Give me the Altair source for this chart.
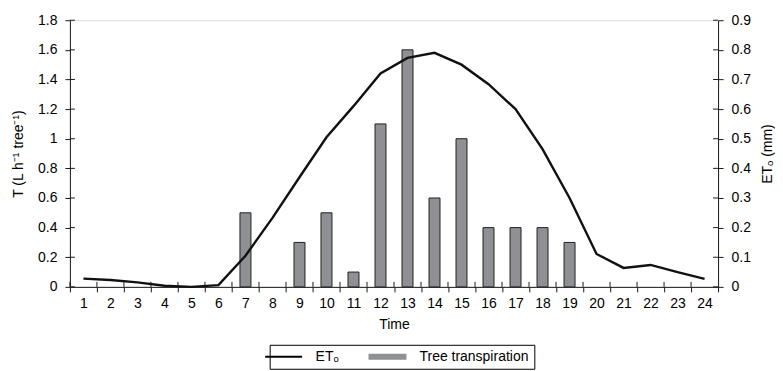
import altair as alt
import pandas as pd

hours = list(range(1, 25))
transp = [0, 0, 0, 0, 0, 0, 0.5, 0, 0.3, 0.5, 0.1, 1.1, 1.6, 0.6, 1.0, 0.4, 0.4, 0.4, 0.3, 0, 0, 0, 0, 0]
et0 = [0.028, 0.023, 0.015, 0.004, 0.0, 0.006, 0.105, 0.233, 0.37, 0.505, 0.61, 0.72,
       0.773, 0.79, 0.75, 0.684, 0.6, 0.465, 0.3, 0.111, 0.064, 0.074, 0.05, 0.027]
left_ticks = [0, 0.2, 0.4, 0.6, 0.8, 1, 1.2, 1.4, 1.6, 1.8]
right_ticks = [0, 0.1, 0.2, 0.3, 0.4, 0.5, 0.6, 0.7, 0.8, 0.9]
series = ["ET\u2092", "Tree transpiration"]

FONT = "Liberation Sans"
FS = 14
GREY = "#8f9094"
INK = "#1a1a1a"
W, H = 649, 267

df = pd.DataFrame({"hour": hours, "T": transp, "ET0": et0})
ticks_df = pd.DataFrame({"T": left_ticks})
edges_df = pd.DataFrame({"hour": hours})
leg_df = pd.DataFrame({"series": series, "hour": [1, 1], "T": [0, 0]})

common = dict(domainColor=INK, tickColor=INK, labelColor="black", titleColor="black",
              labelFontSize=FS, titleFontSize=FS, titleFontWeight="normal", tickSize=5,
              labelFont=FONT, titleFont=FONT, labelOverlap=False)

xenc = alt.X("hour:O", scale=alt.Scale(paddingInner=0, paddingOuter=0),
             axis=alt.Axis(title="Time", labelAngle=0, tickBand="extent",
                           labelPadding=5, titlePadding=7, **common))
yscale = alt.Scale(domain=[0, 1.8])

bars = alt.Chart(df).transform_filter("datum.T > 0").mark_bar(
    width=11, color=GREY, stroke="#222", strokeWidth=1
).encode(
    x=xenc,
    y=alt.Y("T:Q", scale=yscale,
            axis=alt.Axis(title="T (L h\u207b\u00b9 tree\u207b\u00b9)", values=left_ticks, format="~g",
                          grid=False, labelPadding=8, titlePadding=12, **common)),
)

ytick_in = alt.Chart(ticks_df).mark_rule(color=INK, strokeWidth=1).encode(
    y=alt.Y("T:Q", scale=yscale, axis=None), x=alt.value(0), x2=alt.value(5))
ytick_in_r = alt.Chart(ticks_df).mark_rule(color=INK, strokeWidth=1).encode(
    y=alt.Y("T:Q", scale=yscale, axis=None), x=alt.value(W - 5), x2=alt.value(W))
xtick_in = alt.Chart(edges_df).mark_rule(color=INK, strokeWidth=1).encode(
    x=alt.X("hour:O", bandPosition=0), y=alt.value(H - 5), y2=alt.value(H))

LEG_TITLE = "\u2003"
legend = alt.Chart(leg_df).mark_point(opacity=0, filled=True, stroke="#222", strokeWidth=1).encode(
    x=alt.X("hour:O"),
    y=alt.Y("T:Q", scale=yscale, axis=None),
    shape=alt.Shape("series:N", scale=alt.Scale(domain=series, range=[
        "M-3.7,-0.2H3.7V0.2H-3.7Z", "M-3.8,-0.6H3.8V0.6H-3.8Z"]),
        legend=alt.Legend(title=LEG_TITLE)),
    fill=alt.Fill("series:N", scale=alt.Scale(domain=series, range=["black", GREY]),
                  legend=alt.Legend(title=LEG_TITLE)),
)

line = alt.Chart(df).mark_line(color="#111", strokeWidth=2.4).encode(
    x=alt.X("hour:O"),
    y=alt.Y("ET0:Q", scale=alt.Scale(domain=[0, 0.9]),
            axis=alt.Axis(orient="right", title="ET\u2092 (mm)", values=right_ticks, format="~g",
                          grid=False, labelPadding=8, titlePadding=10, titleAngle=270,
                          titleBaseline="top", **common)),
)

chart = alt.layer(bars, line, ytick_in, ytick_in_r, xtick_in, legend).resolve_scale(
    y="independent"
).properties(
    width=W, height=H, padding={"left": 3, "top": 5, "right": 0, "bottom": 0}
).configure_view(stroke=None).configure(font=FONT).configure_legend(
    orient="none", legendX=200, legendY=325, direction="horizontal",
    strokeColor="black", padding=5, symbolSize=100, symbolOpacity=1,
    symbolStrokeColor="#222", symbolStrokeWidth=1,
    labelFontSize=FS, labelFont=FONT, labelColor="black",
    columnPadding=27, labelOffset=25,
    titleOrient="left", titlePadding=2, titleFontSize=FS, titleFont=FONT
)

chart.save("out.html", embed_options={"renderer": "svg", "actions": False})
